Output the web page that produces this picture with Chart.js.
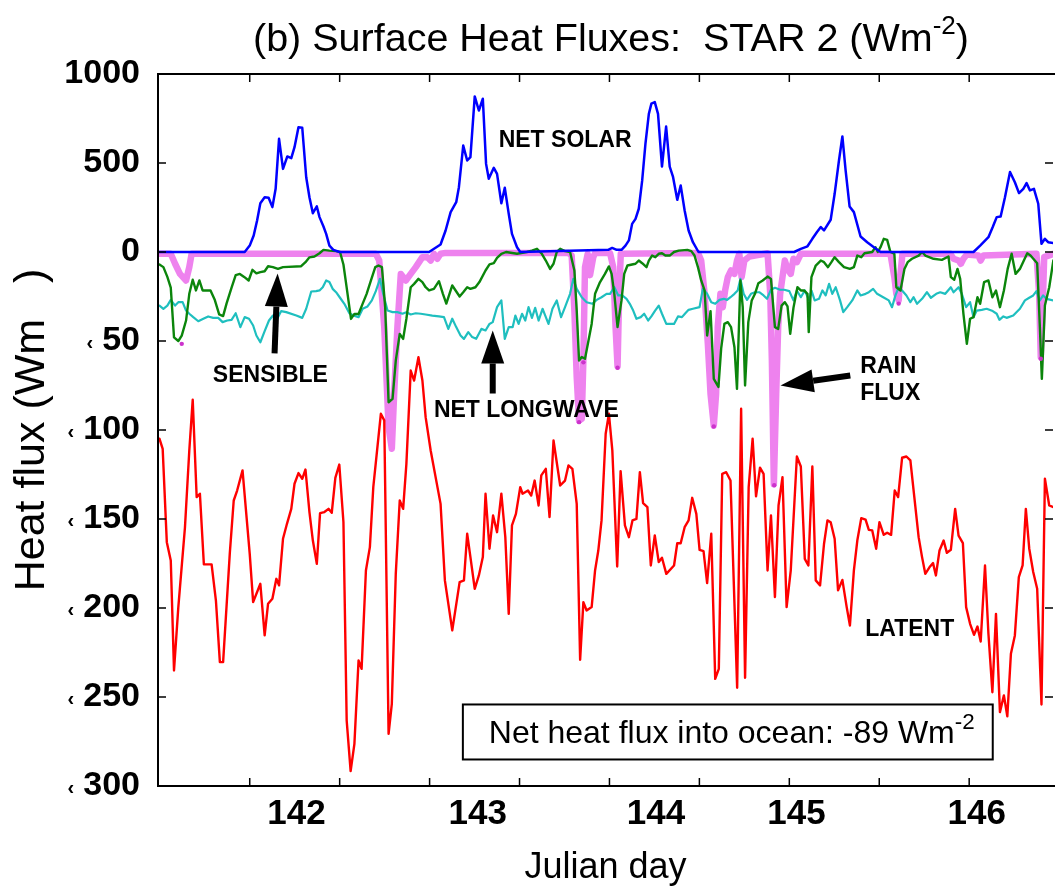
<!DOCTYPE html>
<html>
<head>
<meta charset="utf-8">
<script src="https://cdn.jsdelivr.net/npm/chart.js@4/dist/chart.umd.min.js"></script>
<style>
  html, body { margin: 0; padding: 0; background: #fff; }
  #wrap { width: 1057px; height: 890px; }
</style>
</head>
<body>
<div id="wrap"><canvas id="fluxChart" width="1057" height="890"></canvas></div>
<script>
/* ==========================================================
   DATA (Julian day, W m-2)
   ========================================================== */
const solarDays = [141.49, 141.972, 142.0, 142.022, 142.041, 142.059, 142.083, 142.105, 142.126, 142.144, 142.163, 142.185, 142.209, 142.231, 142.249, 142.271, 142.292, 142.314, 142.332, 142.351, 142.373, 142.388, 142.41, 142.425, 142.443, 142.465, 142.499,
  142.997, 143.061, 143.089, 143.117, 143.148, 143.163, 143.187, 143.209, 143.227, 143.251, 143.274, 143.296, 143.314, 143.329, 143.357, 143.375, 143.399, 143.418, 143.44, 143.458, 143.486, 143.504,
  143.993, 144.015, 144.04, 144.067, 144.089, 144.108, 144.126, 144.145, 144.163, 144.182, 144.2, 144.219, 144.233, 144.252, 144.27, 144.292, 144.315, 144.335, 144.353, 144.377, 144.396, 144.418, 144.44, 144.464, 144.495,
  145.027, 145.064, 145.101, 145.128, 145.153, 145.175, 145.193, 145.23, 145.252, 145.276, 145.295, 145.313, 145.335, 145.359, 145.396, 145.433, 145.47, 145.507,
  146.024, 146.061, 146.107, 146.131, 146.153, 146.175, 146.199, 146.227, 146.254, 146.277, 146.301, 146.319, 146.338, 146.36, 146.384, 146.402, 146.421, 146.439, 146.468];
const solarFlux = [0, 0, 36, 93, 177, 274, 308, 305, 252, 355, 636, 467, 537, 527, 589, 701, 698, 420, 308, 218, 256, 196, 143, 102, 36, 12, 0,
  0, 42, 121, 224, 280, 364, 598, 514, 533, 874, 795, 861, 495, 411, 473, 439, 274, 361, 214, 102, 27, 0,
  12, 23, 12, 12, 36, 65, 158, 186, 243, 402, 608, 776, 833, 842, 776, 480, 705, 480, 424, 293, 374, 233, 121, 55, 0,
  0, 18, 32, 74, 111, 140, 121, 181, 327, 514, 649, 458, 256, 224, 87, 55, 27, 0,
  0, 36, 83, 140, 196, 200, 308, 449, 392, 331, 355, 387, 346, 355, 271, 46, 74, 55, 50];

const sensDays = [141.498, 141.52, 141.542, 141.561, 141.579, 141.603, 141.622, 141.646, 141.664, 141.683, 141.701, 141.72, 141.738, 141.782, 141.806, 141.83, 141.852, 141.871, 141.899, 141.922, 141.945, 141.969, 141.994,
  142.015, 142.037, 142.059, 142.083, 142.102, 142.129, 142.157, 142.185, 142.286, 142.31, 142.332, 142.36, 142.388, 142.41, 142.443, 142.48, 142.502, 142.521, 142.539, 142.563, 142.582, 142.605, 142.628, 142.65, 142.674, 142.698,
  142.716, 142.735, 142.753, 142.772, 142.794, 142.812, 142.834, 142.853, 142.871, 142.895, 142.914, 142.938, 142.96, 142.978, 142.997, 143.024, 143.052, 143.074, 143.093, 143.126, 143.167, 143.187, 143.209, 143.227, 143.255,
  143.277, 143.311, 143.333, 143.357, 143.375, 143.399, 143.425, 143.486, 143.541, 143.569, 143.597, 143.624, 143.646, 143.67, 143.689, 143.707, 143.726, 143.753, 143.781, 143.805, 143.818, 143.831, 143.846, 143.864,
  143.883, 143.901, 143.92, 143.947, 143.975, 143.997, 144.012, 144.027, 144.045, 144.067, 144.082, 144.1, 144.145, 144.163, 144.182, 144.206, 144.219, 144.237, 144.255, 144.274, 144.292, 144.311, 144.335, 144.359,
  144.385, 144.433, 144.455, 144.473, 144.492, 144.51, 144.529, 144.543, 144.562, 144.58, 144.606, 144.621, 144.639, 144.658, 144.676, 144.695, 144.709, 144.728, 144.741, 144.754, 144.772, 144.791, 144.809, 144.828,
  144.852, 144.879, 144.898, 144.92, 144.938, 144.957, 144.975, 144.99, 145.005, 145.023, 145.045, 145.064, 145.082, 145.101, 145.108, 145.123, 145.147, 145.175, 145.193, 145.215, 145.234, 145.252, 145.276, 145.304,
  145.337, 145.359, 145.378, 145.4, 145.418, 145.461, 145.479, 145.492, 145.507, 145.525, 145.544, 145.562, 145.584, 145.595, 145.618, 145.64, 145.658, 145.682, 145.719, 145.738, 145.756, 145.802, 145.848, 145.885,
  145.898, 145.917, 145.935, 145.95, 145.968, 145.987, 146.005, 146.024, 146.046, 146.061, 146.083, 146.107, 146.129, 146.149, 146.171, 146.193, 146.214, 146.236, 146.258, 146.282, 146.304, 146.323, 146.341, 146.378,
  146.393, 146.404, 146.421, 146.445, 146.468];
const sensFlux = [-7, -8.5, -14, -20, -48, -50, -47, -38.5, -23.5, -15.6, -21.6, -16, -21.6, -21.6, -27, -35, -36, -29, -20, -13, -12.3, -14, -16,
  -10, -12, -11.3, -10.8, -8, -8.5, -9.5, -8.5, -8, -5.7, -3, -2.5, -0.7, 12, 8, 5, 0, -7, -20, -37.6, -34.8, -34.8, -29, -23.5, -16, -8.5,
  -7.6, -8.5, -31, -84.4, -82.5, -61, -46, -48.8, -37.5, -19.8, -17.9, -15.1, -16.9, -19.8, -21.6, -20.7, -16.4, -23.5, -29, -18.8, -25, -22.6, -19.8, -20.7, -19.8,
  -16.9, -10.4, -7, -6.3, -3.3, -1, 0, -1, 0, 8, 18, -1, -4.8, -9.5, -6.6, 0, 18, 5, 0, -10.4, -32.9, -61, -59, -60,
  -50, -40.4, -23.5, -17, -12.3, -8.1, -12.3, -23.5, -42.2, -27.2, -12.3, -7.6, -6.6, -4.8, -6.3, -8.5, -4.8, -2, -2.9, -1, -0.7, -2, -2, 0,
  8, 12, 5, -2, -8.5, -16, -21.6, -46.9, -33.2, -71.3, -75.8, -54.3, -40.4, -39.4, -42.2, -53.5, -76.9, -16, -31, -75, -39.4, -27.2, -23.5, -17.5,
  -16, -13.8, -15.1, -42.2, -43.2, -30.1, -28.2, -30.6, -46, -31.4, -19.8, -21.6, -21.6, -23.5, -45, -14.1, -7.6, -4.8, -5.7, -8.5, -5.7, -2.9, -5.7, -8.5,
  -9.5, -8.5, -2, -2.9, -0.7, 0, 27, 0, 27, 74, 68, 0, -1, -19.8, -21.6, -9.5, -5.7, -3.8, -2, 0, -2, -3.8, -4.4, -2.5,
  -14.1, -15.6, -9.5, -15.1, -34.7, -51.6, -37.5, -36.6, -25.4, -29.1, -16.9, -16, -25.4, -21.6, -31, -21.6, -9.5, -1, -12.3, -9.5, -4.8, -0.7, -2, -6.3,
  -42.2, -71.3, -30.1, -19.8, -4.8];

const lwDays = [141.498, 141.52, 141.542, 141.561, 141.585, 141.603, 141.627, 141.646, 141.664, 141.686, 141.714, 141.742, 141.769, 141.797, 141.825, 141.849, 141.875, 141.899, 141.922, 141.948, 141.972, 141.996,
  142.019, 142.037, 142.059, 142.083, 142.107, 142.129, 142.157, 142.175, 142.203, 142.259, 142.292, 142.314, 142.342, 142.369, 142.388, 142.406, 142.425, 142.443, 142.461, 142.48, 142.502, 142.526, 142.554, 142.576,
  142.605, 142.628, 142.655, 142.679, 142.701, 142.724, 142.742, 142.766, 142.794, 142.821, 142.849, 142.871, 142.895, 142.923, 142.951, 142.978, 143.015, 143.052, 143.08, 143.104, 143.126, 143.148, 143.172, 143.191,
  143.215, 143.237, 143.259, 143.288, 143.311, 143.333, 143.351, 143.375, 143.399, 143.418, 143.44, 143.462, 143.477, 143.495, 143.514, 143.532, 143.55, 143.569, 143.587, 143.606, 143.628, 143.643, 143.661, 143.683,
  143.707, 143.731, 143.753, 143.781, 143.799, 143.818, 143.846, 143.873, 143.905, 143.929, 143.956, 143.984, 144.003, 144.027, 144.049, 144.071, 144.095, 144.113, 144.132, 144.15, 144.174, 144.193, 144.215, 144.233,
  144.252, 144.274, 144.292, 144.316, 144.34, 144.359, 144.381, 144.403, 144.422, 144.44, 144.464, 144.501, 144.519, 144.543, 144.566, 144.588, 144.612, 144.636, 144.654, 144.673, 144.695, 144.713, 144.728, 144.746,
  144.765, 144.787, 144.809, 144.833, 144.857, 144.876, 144.898, 144.92, 144.949, 144.972, 145.0, 145.023, 145.042, 145.064, 145.086, 145.11, 145.123, 145.141, 145.165, 145.184, 145.202, 145.221, 145.239, 145.258,
  145.282, 145.3, 145.322, 145.35, 145.378, 145.396, 145.424, 145.442, 145.466, 145.488, 145.522, 145.553, 145.571, 145.59, 145.608, 145.627, 145.651, 145.673, 145.691, 145.71, 145.738, 145.765, 145.787, 145.817,
  145.839, 145.867, 145.898, 145.913, 145.941, 145.959, 145.983, 146.005, 146.024, 146.042, 146.07, 146.097, 146.131, 146.153, 146.168, 146.19, 146.208, 146.245, 146.282, 146.31, 146.334, 146.356, 146.374, 146.393,
  146.411, 146.43, 146.468];
const lwFlux = [-30.1, -31.9, -30.1, -26.9, -30.1, -28.2, -28.2, -32.9, -34.7, -36.6, -38.9, -37.5, -36.2, -37, -37, -39.4, -38.5, -38.1, -34.4, -42.2, -36.6, -37.5,
  -41.3, -46.9, -50.7, -44.5, -38.5, -35.7, -36.6, -33.2, -33.8, -35.7, -37, -31.9, -22.2, -22, -21.6, -19.8, -16, -16.9, -20.7, -22.6, -25.7, -29.1, -34.4, -35.7,
  -36.6, -31.9, -30.6, -27.2, -22, -15.1, -23.5, -32.9, -33.8, -33.8, -34.7, -33.8, -35.1, -34.4, -34.7, -35.1, -35.7, -36.2, -36.6, -43.2, -37.5, -42.2, -46.9, -48.8,
  -45, -47.8, -48.8, -43.2, -44.1, -40.4, -39.4, -31, -27.2, -48.8, -42.2, -42.2, -35.7, -40.4, -34.7, -38.5, -31, -37, -31.4, -38.5, -31.9, -35.7, -40.4, -31.9,
  -27.2, -36.6, -31, -23.5, -15.1, -20.7, -25.4, -28.2, -29.1, -26.9, -25.4, -23.5, -23.5, -19.8, -24.4, -24.4, -26.3, -29.1, -32.9, -37.5, -36.6, -34.7, -38.5, -36.2,
  -33.2, -30.1, -34.7, -40.4, -40.4, -40.4, -36.2, -36.6, -34.4, -32.5, -31.9, -31, -20.7, -23.5, -28.2, -29.1, -26.9, -26.3, -26.9, -25.4, -23.5, -21.6, -15.1, -23.5,
  -26.9, -23.5, -22.6, -22.6, -24.4, -26.3, -21.2, -20.1, -21.2, -21.2, -22, -27.2, -21.6, -25.4, -21.6, -27.2, -21.6, -27.2, -26.3, -21.6, -24.4, -17.9, -23.5, -19.8,
  -27.2, -33.8, -31, -27.2, -21.6, -24.4, -23.5, -22.6, -20.7, -23.5, -25.4, -27.2, -31, -24.4, -19.8, -21.6, -24.4, -28.2, -25.4, -29.1, -26.3, -22.6, -25.7, -23.5,
  -22.6, -23.5, -19.8, -22.6, -19.8, -23.5, -31, -28.2, -36.6, -32.9, -32.5, -31.9, -33.2, -34.7, -38.1, -36.2, -37, -35.7, -31.9, -27.2, -25.7, -24.4, -22, -27.2,
  -24.4, -26.3, -27.2];

const rainDays = [141.498, 141.561, 141.585, 141.612, 141.646, 141.664, 141.677, 142.701, 142.72, 142.748, 142.772, 142.79, 142.803, 142.821, 142.84, 142.868, 142.895, 142.923, 142.96, 142.988, 143.006, 143.024, 143.043, 143.061, 143.089,
  143.772, 143.79, 143.805, 143.818, 143.831, 143.846, 143.855, 143.864, 143.879, 143.892, 143.91, 143.92, 144.003, 144.021, 144.034, 144.045, 144.054, 144.063,
  144.492, 144.51, 144.529, 144.547, 144.562, 144.58, 144.593, 144.602, 144.617, 144.63, 144.643, 144.658, 144.676, 144.695, 144.709, 144.722, 144.735, 144.75, 144.778,
  144.879, 144.894, 144.903, 144.914, 144.927, 144.938, 144.949, 144.962, 144.975, 144.99, 145.008, 145.023, 145.042, 145.064,
  145.562, 145.584, 145.595, 145.608, 145.618, 145.629, 145.895, 145.913, 145.941, 145.954, 145.968, 145.987, 146.051, 146.064, 146.079,
  146.374, 146.389, 146.398, 146.408, 146.417, 146.468];
const rainFlux = [-1, -1, -6.6, -12.3, -16, -8.5, -1, -1, -4.8, -42.2, -98.3, -110.5, -79.6, -42.2, -12.3, -16, -12.3, -8.5, -2.9, -2.9, -4.8, -1, -3.8, -1, -0.5,
  -0.5, -2, -32.9, -70.3, -94.7, -93.7, -60.8, -8.5, -1, -13, -2.9, -0.5, -0.5, -8.5, -42.2, -64.3, -23.5, -1,
  -0.5, -4.8, -23.5, -51.6, -79.7, -97.5, -79.7, -42.2, -23.5, -31, -21.6, -14.1, -10.4, -12.3, -4.8, -1, -14.1, -4.8, -2.5,
  -0.7, -23.5, -60.8, -130.5, -79.7, -42.2, -23.5, -14.1, -4.8, -9.5, -12.3, -3.8, -5.7, -1,
  -1, -14.1, -23.5, -27.2, -12.3, -1, -1, -3.8, -4.8, -6.6, -3.8, -1.4, -2, -4.8, -2,
  -1, -23.5, -59, -32.9, -2.9, -1];

// isolated rain-flux samples shown as small dots
const dotDays = [141.622, 143.831, 143.855, 144.045, 144.58, 144.916, 145.608, 146.398];
const dotFlux = [-51.6, -95.6, -62, -65, -98, -131, -29, -60];

const latDays = [141.498, 141.516, 141.539, 141.561, 141.579, 141.603, 141.64, 141.664, 141.683, 141.705, 141.723, 141.745, 141.788, 141.812, 141.834, 141.852, 141.889, 141.911, 141.93, 141.96,
  142.0, 142.019, 142.059, 142.083, 142.102, 142.126, 142.148, 142.163, 142.185, 142.207, 142.231, 142.249, 142.271, 142.292, 142.31, 142.332, 142.351, 142.373, 142.391, 142.415, 142.438, 142.456, 142.476, 142.498,
  142.521, 142.539, 142.561, 142.582, 142.605, 142.622, 142.646, 142.668, 142.687, 142.729, 142.748, 142.772, 142.79, 142.812, 142.834, 142.853, 142.871, 142.895, 142.914, 142.938, 142.96, 142.978,
  143.006, 143.061, 143.085, 143.126, 143.167, 143.191, 143.209, 143.227, 143.251, 143.274, 143.296, 143.311, 143.333, 143.353, 143.375, 143.399, 143.421, 143.44, 143.458, 143.48, 143.504, 143.517, 143.547, 143.565,
  143.584, 143.606, 143.621, 143.646, 143.667, 143.689, 143.726, 143.753, 143.772, 143.794, 143.818, 143.837, 143.855, 143.873, 143.901, 143.92, 143.938, 143.956, 143.979, 143.997,
  144.016, 144.043, 144.062, 144.086, 144.108, 144.128, 144.15, 144.169, 144.187, 144.211, 144.23, 144.252, 144.274, 144.292, 144.316, 144.359, 144.377, 144.396, 144.418, 144.44, 144.46, 144.483, 144.501, 144.523,
  144.543, 144.566, 144.588, 144.608, 144.627, 144.649, 144.673, 144.71, 144.732, 144.754, 144.774, 144.796, 144.815, 144.837, 144.857, 144.879, 144.898, 144.92, 144.94, 144.962, 144.985,
  145.008, 145.042, 145.064, 145.086, 145.106, 145.128, 145.147, 145.171, 145.193, 145.212, 145.23, 145.252, 145.271, 145.295, 145.319, 145.337, 145.359, 145.378, 145.4, 145.424, 145.442, 145.461, 145.483, 145.501,
  145.525, 145.544, 145.566, 145.586, 145.605, 145.627, 145.651, 145.673, 145.695, 145.719, 145.738, 145.756, 145.78, 145.799, 145.815, 145.835, 145.858, 145.876, 145.898, 145.922, 145.941, 145.965, 145.983,
  146.005, 146.027, 146.046, 146.064, 146.088, 146.107, 146.129, 146.149, 146.171, 146.193, 146.212, 146.232, 146.254, 146.276, 146.297, 146.315, 146.334, 146.356, 146.378, 146.402, 146.421, 146.445, 146.468];
const latFlux = [-104.9, -110.6, -163, -173.3, -235.1, -199.5, -154.6, -111.5, -83, -137.7, -135.8, -175.5, -175.5, -195.8, -230.4, -230.4, -169.6, -139.6, -134, -122.7,
  -169.6, -196.7, -186.4, -215.4, -197.6, -194.8, -183.6, -187.3, -161.1, -152.7, -144.3, -130.2, -124.2, -127.4, -122.2, -146.1, -162.1, -175.2, -146.7, -146.1, -144.3, -146.5, -126.9, -119.4,
  -151.8, -263.2, -291.6, -276.3, -229.5, -234.2, -178.9, -165.8, -132.1, -90.9, -94.6, -270.7, -253.8, -180.8, -139.6, -144.3, -119, -66.6, -72.2, -59.1, -72.2, -92.8,
  -111.5, -141.5, -184.5, -212.6, -185.5, -184.5, -158.3, -171.4, -189.2, -181.7, -171.4, -135.8, -166.7, -148, -157.4, -135.8, -160.2, -203.3, -153.6, -147.1, -132.1, -135.8, -134, -136.8,
  -128.4, -142.4, -125.5, -121.8, -148.9, -105.9, -131.2, -128.4, -119.9, -121.8, -141.5, -229.1, -196.7, -201.4, -199.5, -178.9, -167.7, -150.8, -102.1, -90.9,
  -111.5, -176.7, -123.1, -153.6, -160.2, -150.8, -149.9, -123.7, -141.1, -143.3, -176.1, -159.2, -174.2, -171.8, -180.8, -176.1, -163.6, -163.6, -154.6, -150.8, -138.1, -147.1, -167.3, -168.1,
  -186, -158.3, -239.8, -234.2, -124.6, -123.7, -128.4, -244.8, -88.1, -239.2, -132.1, -104.9, -137.3, -121.2, -124.6, -178.9, -148, -193.9, -142.4, -126.5, -199.5,
  -178.9, -114.9, -120.5, -172.4, -176.1, -120.5, -184.5, -187.3, -163.9, -150.8, -151.8, -161.1, -190.1, -184.2, -199.5, -209.8, -178.9, -162.1, -149.5, -150.3, -156.1, -156.4, -166.7, -151.8,
  -158.9, -157.7, -158.9, -134, -137.7, -115.6, -114.9, -117.1, -137.7, -160.2, -171.4, -180.8, -177, -174.8, -181.7, -167.7, -162.1, -169, -167.3, -144.3, -159.3, -163.6, -199.5,
  -208.9, -215.1, -210.4, -218.8, -176.1, -214.5, -247.3, -203.3, -258.5, -249.1, -260.9, -225.7, -215.4, -182.7, -176.1, -144.3, -166.7, -179.8, -189.2, -254.2, -127.4, -142.4, -143.3];

// x tick labels as printed on the figure (they sit off the 0.5-day tick marks)
const xTickLabels = ['142', '143', '144', '145', '146'];
const xLabelDays = [142.26, 143.268, 144.259, 145.04, 146.042];

// y axis: positive side compressed 10x, so 1000 and 500 share the spacing of 50
const yTickStep = 50;
const tf = v => (v >= 0 ? v / 10 : v);

function series(days, vals) {
  return days.map((d, i) => ({ x: d, y: tf(vals[i]) }));
}

/* ==========================================================
   DRAWING HELPERS (frame, ticks, notes, title)
   ========================================================== */
const FONT = "'Liberation Sans', Arial, Helvetica, sans-serif";

function supText(ctx, parts, x, y, size, weight, align, supScale) {
  // parts: [text, isSuperscript]
  const k = supScale || 0.62;
  const w = parts.map(([t, sup]) => {
    ctx.font = `${weight} ${sup ? size * k : size}px ${FONT}`;
    return ctx.measureText(t).width;
  });
  const total = w.reduce((a, b) => a + b, 0);
  let cx = align === 'center' ? x - total / 2 : x;
  ctx.textAlign = 'left';
  ctx.textBaseline = 'alphabetic';
  parts.forEach(([t, sup], i) => {
    ctx.font = `${weight} ${sup ? size * k : size}px ${FONT}`;
    ctx.fillText(t, cx, sup ? y - size * 0.42 : y);
    cx += w[i];
  });
}

function arrow(ctx, x0, y0, x1, y1) {
  const ang = Math.atan2(y1 - y0, x1 - x0);
  const headLen = 33, headW = 11.5;
  const bx = x1 - headLen * Math.cos(ang), by = y1 - headLen * Math.sin(ang);
  ctx.lineWidth = 6;
  ctx.beginPath();
  ctx.moveTo(x0, y0);
  ctx.lineTo(bx, by);
  ctx.stroke();
  ctx.beginPath();
  ctx.moveTo(x1, y1);
  ctx.lineTo(bx + headW * Math.sin(ang), by - headW * Math.cos(ang));
  ctx.lineTo(bx - headW * Math.sin(ang), by + headW * Math.cos(ang));
  ctx.closePath();
  ctx.fill();
}

const framePlugin = {
  id: 'frame',
  afterDatasetsDraw(chart, args, opts) {
    const { ctx, chartArea: a, scales: { x, y } } = chart;
    const X = d => x.getPixelForValue(d);
    const Y = v => y.getPixelForValue(tf(v));
    ctx.save();

    // annotations
    ctx.fillStyle = '#000';
    ctx.strokeStyle = '#000';
    ctx.textAlign = 'left';
    ctx.textBaseline = 'middle';
    ctx.font = `bold 23px ${FONT}`;
    opts.labels.forEach(l => ctx.fillText(l.text, X(l.day), Y(l.flux)));
    opts.arrows.forEach(r => arrow(ctx, X(r.from[0]), Y(r.from[1]), X(r.to[0]), Y(r.to[1])));

    // net heat flux box
    const b = opts.box;
    const bx0 = X(b.day0), bx1 = X(b.day1), by0 = Y(b.top), by1 = Y(b.bottom);
    ctx.fillStyle = '#fff';
    ctx.fillRect(bx0, by0, bx1 - bx0, by1 - by0);
    ctx.lineWidth = 2;
    ctx.strokeRect(bx0, by0, bx1 - bx0, by1 - by0);
    ctx.fillStyle = '#000';
    supText(ctx, [[b.text, false], ['-2', true]], X(b.textDay), Y(b.textFlux), 32, 'normal', 'left', 0.7);

    // frame
    ctx.lineWidth = 2;
    ctx.beginPath();
    ctx.moveTo(a.right + 2, a.top);
    ctx.lineTo(a.left, a.top);
    ctx.lineTo(a.left, a.bottom);
    ctx.lineTo(a.right + 2, a.bottom);
    ctx.stroke();

    // inward tick marks
    ctx.lineWidth = 1.5;
    ctx.beginPath();
    x.ticks.forEach(t => {
      const px = X(t.value);
      if (px < a.left + 3 || px > a.right - 1) return;
      ctx.moveTo(px, a.top); ctx.lineTo(px, a.top + 8);
      ctx.moveTo(px, a.bottom); ctx.lineTo(px, a.bottom - 8);
    });
    y.ticks.forEach(t => {
      if (t.value <= y.min || t.value >= y.max) return;
      const py = y.getPixelForValue(t.value);
      ctx.moveTo(a.left, py); ctx.lineTo(a.left + 8, py);
      ctx.moveTo(a.right, py); ctx.lineTo(a.right - 8, py);
    });
    ctx.stroke();

    // small "‹" marks in front of the negative y labels
    ctx.textAlign = 'right';
    ctx.textBaseline = 'middle';
    y.ticks.forEach(t => {
      if (t.value >= 0) return;
      ctx.font = `bold 34px ${FONT}`;
      const lw = ctx.measureText(String(-t.value)).width;
      ctx.font = `bold 20px ${FONT}`;
      ctx.fillText('‹', a.left - 18 - lw - 9, y.getPixelForValue(t.value) + 2);
    });

    // title
    ctx.fillStyle = '#000';
    supText(ctx, [['(b) Surface Heat Fluxes:  STAR 2 (Wm', false], ['-2', true], [')', false]], 611, 51, 39.5, 'normal', 'center', 0.66);
    ctx.restore();
  }
};

/* ==========================================================
   CHART
   ========================================================== */
const ctx = document.getElementById('fluxChart').getContext('2d');

const lineStyle = { pointRadius: 0, tension: 0, fill: false, borderJoinStyle: 'round', borderCapStyle: 'round' };

const fluxChart = new Chart(ctx, {
  type: 'line',
  data: {
    datasets: [
      { label: 'Rain flux dots', data: series(dotDays, dotFlux), showLine: false, pointRadius: 2.2, pointBackgroundColor: '#cc33cc', pointBorderWidth: 0, order: 0 },
      { label: 'Net solar', data: series(solarDays, solarFlux), borderColor: '#0000ff', borderWidth: 2.5, order: 1, ...lineStyle },
      { label: 'Sensible', data: series(sensDays, sensFlux), borderColor: '#0b850b', borderWidth: 2.4, order: 2, ...lineStyle },
      { label: 'Net longwave', data: series(lwDays, lwFlux), borderColor: '#1fbfbf', borderWidth: 2.2, order: 3, ...lineStyle },
      { label: 'Latent', data: series(latDays, latFlux), borderColor: '#ff0000', borderWidth: 2.4, order: 4, ...lineStyle },
      { label: 'Rain flux', data: series(rainDays, rainFlux), borderColor: '#ee82ee', borderWidth: 6.5, order: 5, ...lineStyle }
    ]
  },
  options: {
    responsive: false,
    devicePixelRatio: 1,
    animation: false,
    layout: { padding: { top: 74, left: 0, right: 0, bottom: 0 } },
    plugins: {
      legend: { display: false },
      tooltip: { enabled: false },
      frame: {
        labels: [
          { text: 'NET SOLAR', day: 143.384, flux: 626 },
          { text: 'SENSIBLE', day: 141.795, flux: -69.4 },
          { text: 'NET LONGWAVE', day: 143.024, flux: -89 },
          { text: 'RAIN', day: 145.394, flux: -64.3 },
          { text: 'FLUX', day: 145.394, flux: -79.5 },
          { text: 'LATENT', day: 145.422, flux: -212.1 }
        ],
        arrows: [
          { from: [142.138, -57], to: [142.155, -12.1] },
          { from: [143.351, -79.5], to: [143.351, -44.1] },
          { from: [145.339, -69.4], to: [144.951, -75] }
        ],
        box: { day0: 143.185, day1: 146.131, top: -254.2, bottom: -285.1,
               text: 'Net heat flux into ocean: -89 Wm', textDay: 143.329, textFlux: -275.6 }
      }
    },
    scales: {
      x: {
        type: 'linear', display: false, min: 141.49, max: 146.466,
        ticks: { stepSize: 0.5, autoSkip: false, includeBounds: false }
      },
      xl: {
        type: 'linear', position: 'bottom', min: 141.49, max: 146.466,
        grid: { display: false, drawTicks: false },
        border: { display: false },
        afterBuildTicks: s => { s.ticks = xLabelDays.map(v => ({ value: v })); },
        afterFit: s => { s.height = 104; },
        ticks: {
          autoSkip: false, maxRotation: 0, padding: 7, color: '#000',
          font: { family: FONT, size: 35, weight: 'bold' },
          callback: (v, i) => xTickLabels[i]
        },
        title: { display: true, text: 'Julian day', color: '#000', padding: { top: 0, bottom: 0 },
                 font: { family: FONT, size: 36 } }
      },
      y: {
        type: 'linear', position: 'left', min: -300, max: 100,
        grid: { display: false, drawTicks: false },
        border: { display: false },
        afterFit: s => { s.width = 158; },
        ticks: {
          stepSize: yTickStep, padding: 18, color: '#000',
          font: { family: FONT, size: 34, weight: 'bold' },
          callback: v => (v > 0 ? String(v * 10) : String(Math.abs(v)))
        },
        title: { display: true, text: 'Heat flux (Wm   )', color: '#000', padding: { top: 6, bottom: 0 },
                 font: { family: FONT, size: 43 } }
      }
    }
  },
  plugins: [framePlugin]
});
</script>
</body>
</html>
